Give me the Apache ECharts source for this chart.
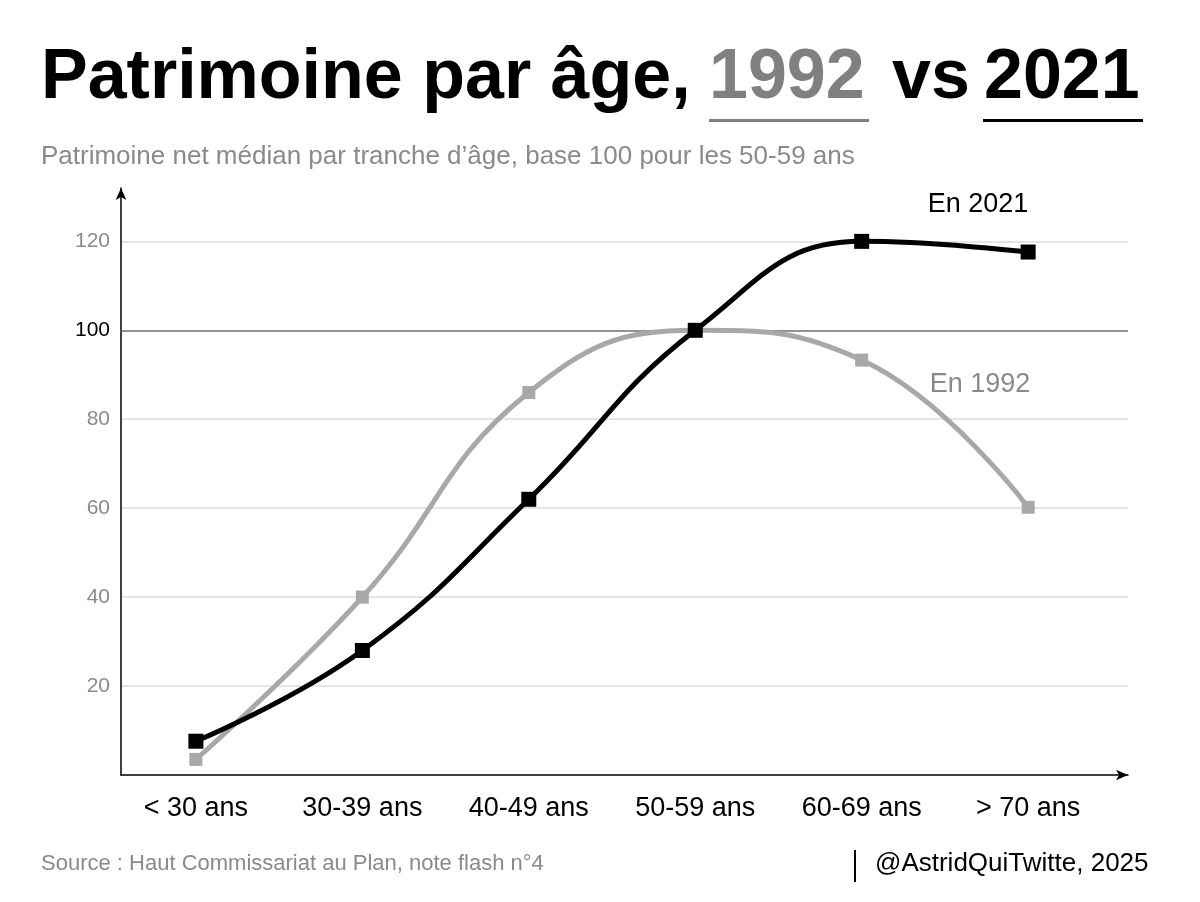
<!DOCTYPE html>
<html>
<head>
<meta charset="utf-8">
<script src="https://cdn.jsdelivr.net/npm/echarts@6/dist/echarts.min.js"></script>
<style>
html,body{margin:0;padding:0;background:#fff;}
#chart{width:1200px;height:902px;}
</style>
</head>
<body>
<div id="chart"></div>
<script>
const categories = ['< 30 ans', '30-39 ans', '40-49 ans', '50-59 ans', '60-69 ans', '> 70 ans'];
const values1992 = [3.5, 40, 86, 100, 93.3, 60.2];
const values2021 = [7.6, 28, 62, 100, 120, 117.6];
const yTicks = [20, 40, 60, 80, 100, 120];

const FONT = '"Liberation Sans", Arial, Helvetica, sans-serif';

const chart = echarts.init(document.getElementById('chart'), null, {renderer: 'canvas'});

const toPairs = arr => arr.map((v, i) => [i, v]);

const option = {
  backgroundColor: '#ffffff',
  animation: false,
  textStyle: {fontFamily: FONT},
  grid: {left: 121, right: 72, top: 188, bottom: 127, containLabel: false},
  xAxis: {
    type: 'value',
    min: -0.45,
    max: 5.6,
    axisLine: {show: true, onZero: false, lineStyle: {color: '#000', width: 1.5}, symbol: ['none', 'arrow'], symbolSize: [8, 12]},
    axisTick: {show: false},
    splitLine: {show: false},
    axisLabel: {
      customValues: [0, 1, 2, 3, 4, 5],
      formatter: v => categories[Math.round(v)] || '',
      color: '#000',
      fontSize: 27,
      fontFamily: FONT,
      margin: 20
    }
  },
  yAxis: {
    type: 'value',
    min: 0,
    max: 132,
    interval: 20,
    axisLine: {show: true, onZero: false, lineStyle: {color: '#000', width: 1.5}, symbol: ['none', 'arrow'], symbolSize: [8, 12]},
    axisTick: {show: false},
    splitLine: {
      show: true,
      lineStyle: {
        color: ['rgba(0,0,0,0)', '#dcdcdc', '#dcdcdc', '#dcdcdc', '#dcdcdc', '#dcdcdc', '#dcdcdc', 'rgba(0,0,0,0)'],
        width: 1.5
      }
    },
    axisLabel: {
      customValues: yTicks,
      formatter: v => v === 100 ? '{k|' + v + '}' : '{g|' + v + '}',
      margin: 11,
      rich: {
        g: {color: '#8a8a8a', fontSize: 21, fontFamily: FONT},
        k: {color: '#000', fontSize: 21, fontFamily: FONT}
      }
    }
  },
  series: [
    {
      name: 'En 1992',
      type: 'line',
      smooth: 0.45,
      data: toPairs(values1992),
      symbol: 'rect',
      symbolSize: 13,
      itemStyle: {color: '#a8a8a8'},
      lineStyle: {color: '#a8a8a8', width: 5},
      z: 3,
      markLine: {
        silent: true,
        symbol: 'none',
        label: {show: false},
        lineStyle: {color: '#777', width: 1.5, type: 'solid'},
        data: [{yAxis: 100}],
        z: 1
      }
    },
    {
      name: 'En 2021',
      type: 'line',
      smooth: 0.45,
      data: toPairs(values2021),
      symbol: 'rect',
      symbolSize: 15,
      itemStyle: {color: '#000'},
      lineStyle: {color: '#000', width: 5},
      z: 4
    }
  ],
  graphic: [
    {type: 'text', left: 41, top: 44, style: {text: 'Patrimoine par âge,', font: 'bold 70px ' + FONT, fill: '#000'}},
    {type: 'text', left: 709, top: 44, style: {text: '1992', font: 'bold 70px ' + FONT, fill: '#808080'}},
    {type: 'text', left: 892, top: 44, style: {text: 'vs', font: 'bold 70px ' + FONT, fill: '#000'}},
    {type: 'text', left: 984, top: 44, style: {text: '2021', font: 'bold 70px ' + FONT, fill: '#000'}},
    {type: 'rect', shape: {x: 709, y: 119, width: 160, height: 3}, style: {fill: '#808080'}},
    {type: 'rect', shape: {x: 983, y: 119, width: 160, height: 3}, style: {fill: '#000'}},
    {type: 'text', left: 41, top: 144, style: {text: 'Patrimoine net médian par tranche d’âge, base 100 pour les 50-59 ans', font: '26px ' + FONT, fill: '#8a8a8a'}},
    {type: 'text', style: {x: 978, y: 205, text: 'En 2021', font: '27px ' + FONT, fill: '#000', align: 'center', verticalAlign: 'middle'}},
    {type: 'text', style: {x: 980, y: 385, text: 'En 1992', font: '27px ' + FONT, fill: '#8a8a8a', align: 'center', verticalAlign: 'middle'}},
    {type: 'text', left: 41, top: 853, style: {text: 'Source : Haut Commissariat au Plan, note flash n°4', font: '22px ' + FONT, fill: '#8a8a8a'}},
    {type: 'rect', shape: {x: 854, y: 850, width: 2, height: 32}, style: {fill: '#000'}},
    {type: 'text', left: 875, top: 851, style: {text: '@AstridQuiTwitte, 2025', font: '26px ' + FONT, fill: '#000'}}
  ]
};

chart.setOption(option);
</script>
</body>
</html>
